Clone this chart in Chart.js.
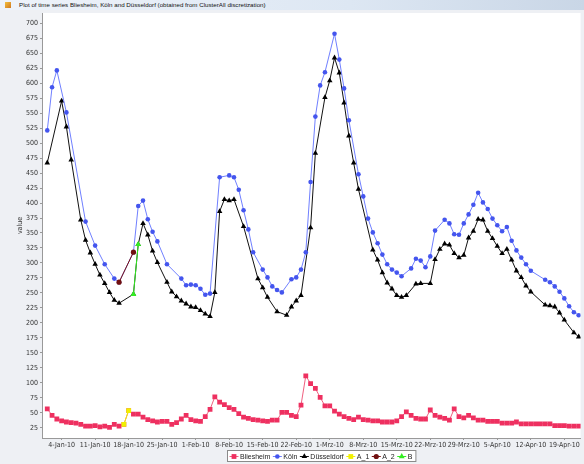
<!DOCTYPE html>
<html>
<head>
<meta charset="utf-8">
<script src="https://cdn.jsdelivr.net/npm/chart.js@4.4.0/dist/chart.umd.min.js"></script>
<style>
  html, body { margin: 0; padding: 0; background: #eef0f4; }
  #wrap { position: relative; width: 584px; height: 464px; overflow: hidden; }
  #titlebar {
    position: absolute; left: 0; top: 0; width: 584px; height: 10px; z-index: 2;
    background: linear-gradient(90deg, #eef3fa, #dde7f3 60%, #c9d6e6);
    font: 6.2px "Liberation Sans", Arial, sans-serif;
    line-height: 10px; color: #111; white-space: nowrap;
  }
  #titlebar .icon {
    display: inline-block; width: 6px; height: 6px; margin: 0 8px 0 5px; vertical-align: -1px;
    background: linear-gradient(135deg, #f2c040, #d07820);
  }
  canvas { position: absolute; left: 0; top: 0; }
</style>
</head>
<body>
<div id="wrap">
  <div id="titlebar"><span class="icon"></span>Plot of time series Bliesheim, Köln and Düsseldorf (obtained from ClusterAll discretization)</div>
  <canvas id="plot" width="584" height="464"></canvas>
</div>
<script>
// day index: 0 = 1-Jan-10
const xTickDays = [3, 10, 17, 24, 31, 38, 45, 52, 59, 66, 73, 80, 87, 94, 101, 108];
const xTickLabels = ["4-Jan-10", "11-Jan-10", "18-Jan-10", "25-Jan-10", "1-Feb-10", "8-Feb-10", "15-Feb-10", "22-Feb-10",
  "1-Mrz-10", "8-Mrz-10", "15-Mrz-10", "22-Mrz-10", "29-Mrz-10", "5-Apr-10", "12-Apr-10", "19-Apr-10"];
const yTicks = [25, 50, 75, 100, 125, 150, 175, 200, 225, 250, 275, 300, 325, 350, 375, 400, 425, 450, 475, 500,
  525, 550, 575, 600, 625, 650, 675, 700];

// one value per day, null = no measurement
const bliesheim = [57, 46, 40, 37, 35, 34, 33, 31, 28, 28, 29, 27, 28, 26, 31, 28, 31, 54, 48, 48,
  43, 39, 37, 35, 36, 36, 31, 34, 40, 46, 39, 37, 36, 44, 56, 77, 68, 64, 59, 56,
  49, 43, 41, 39, 38, 37, 36, 38, 38, 51, 51, 46, 44, 63, 112, 99, 91, 76, 62, 62,
  53, 48, 44, 41, 39, 43, 39, 38, 37, 37, 35, 35, 35, 37, 44, 52, 46, 41, 40, 40,
  55, 46, 43, 41, 38, 57, 44, 42, 46, 42, 38, 38, 36, 36, 36, 33, 33, 33, 35, 32,
  32, 32, 32, 32, 32, 32, 29, 29, 29, 28, 28, 28];
const koeln = [521, 593, 621, null, 551, null, null, null, 369, null, 329, null, 298, null, 274, 268, null, null, 318, 395,
  404, 373, 352, 336, null, 298, null, null, 274, 263, 264, 263, 257, 247, 249, null, 443, null, 446, 443,
  422, 388, 356, 318, null, 289, 276, 261, 255, 251, null, 273, 276, 289, 318, 435, 544, 596, 618, null,
  682, 639, 591, 538, null, 448, 411, 374, 351, 333, 314, 298, 289, 284, 278, null, 291, 307, 304, 293,
  311, 354, null, 372, 366, 348, 347, 366, 381, 397, 417, 401, 390, 374, 363, 353, 360, 337, 321, 309,
  298, 287, null, null, 272, 268, 261, 252, 241, 228, 218, 213];
const duesseldorf = [467, null, null, 570, 527, 472, null, 372, 338, 317, 298, 280, 266, 251, 238, 233, null, null, 248, 331,
  366, 347, 320, 301, null, 268, 252, 244, 237, 232, 227, 226, 221, 215, 211, 251, 386, 406, 404, 406,
  null, 361, null, null, 274, 259, 243, null, 219, null, 213, 227, 237, 246, null, 359, 483, null, 576, 604,
  642, 617, 567, 512, 467, 423, null, null, 322, 305, 284, 267, 257, 246, 243, 246, null, 265, 266, null,
  266, 306, 323, 332, 330, 316, 309, 313, 342, 353, 373, 372, 353, 341, 328, 316, 323, 305, 287, 276,
  262, 252, null, null, 230, 229, 227, 217, 205, null, 184, 177];
// highlighted sub-sequences [day, value]
const a1 = [[16, 31], [17, 54]];
const a2 = [[15, 268], [18, 318]];
const b = [[18, 248], [19, 331]];

const toPoints = arr => arr.map((v, d) => ({ x: d, y: v })).filter(p => p.y !== null);
const pairPoints = arr => arr.map(p => ({ x: p[0], y: p[1] }));

const FONT = '"Liberation Sans Narrow", "DejaVu Sans Condensed", sans-serif';
const LEGEND_FONT = '7px "Liberation Sans", Arial, sans-serif';

const plotBg = {
  id: 'plotBg',
  beforeDraw(chart) {
    const { ctx, chartArea: a } = chart;
    ctx.save();
    ctx.fillStyle = '#ffffff';
    ctx.fillRect(a.left, a.top, a.right - a.left, a.bottom - a.top);
    ctx.restore();
  }
};

// JFreeChart style legend: line + marker + name, in a framed box
const boxLegend = {
  id: 'boxLegend',
  afterDraw(chart) {
    const ctx = chart.ctx;
    const items = chart.data.datasets;
    ctx.save();
    ctx.font = LEGEND_FONT;
    const seg = 9, gap = 1.5, between = 2.5;
    let total = 3;
    items.forEach(ds => { total += seg + gap + ctx.measureText(ds.label).width + between; });
    const left = 227, top = 450, h = 11;
    ctx.fillStyle = '#ffffff';
    ctx.fillRect(left + 0.5, top + 0.5, total, h);
    ctx.strokeStyle = '#8a8a8a';
    ctx.lineWidth = 1;
    ctx.strokeRect(left + 0.5, top + 0.5, total, h);
    let x = left + 2.5;
    const cy = top + 6;
    items.forEach(ds => {
      ctx.strokeStyle = ds.borderColor;
      ctx.beginPath();
      ctx.moveTo(x, cy + 0.5);
      ctx.lineTo(x + seg, cy + 0.5);
      ctx.stroke();
      ctx.fillStyle = ds.pointBackgroundColor;
      ctx.strokeStyle = ds.pointBackgroundColor;
      Chart.helpers.drawPoint(ctx, {
        pointStyle: ds.pointStyle, radius: ds.pointRadius, borderWidth: 0
      }, x + seg / 2, cy + 0.5);
      x += seg + gap;
      ctx.fillStyle = '#222';
      ctx.textBaseline = 'middle';
      ctx.fillText(ds.label, x, cy + 1);
      x += ctx.measureText(ds.label).width + between;
    });
    ctx.restore();
  }
};

function series(label, pts, line, mark, style, radius, order) {
  return {
    label: label, data: pts, borderColor: line, borderWidth: 1,
    pointStyle: style, pointRadius: radius, pointHoverRadius: radius,
    pointBackgroundColor: mark, pointBorderColor: mark, pointBorderWidth: 0,
    tension: 0, fill: false, order: order
  };
}

new Chart(document.getElementById('plot'), {
  type: 'line',
  data: {
    datasets: [
      series('Bliesheim', toPoints(bliesheim), '#f06080', '#ee3060', 'rect', 3.4, 2),
      series('Köln', toPoints(koeln), '#7080ff', '#4455ee', 'circle', 2.3, 2),
      series('Düsseldorf', toPoints(duesseldorf), '#111111', '#000000', 'triangle', 3.2, 2),
      series('A_1', pairPoints(a1), '#f2f200', '#f0f000', 'rect', 3.4, 1),
      series('A_2', pairPoints(a2), '#7a1010', '#701010', 'circle', 2.6, 1),
      series('B', pairPoints(b), '#33ee22', '#33ee22', 'triangle', 3.4, 1)
    ]
  },
  options: {
    responsive: false,
    animation: false,
    events: [],
    layout: { padding: { top: 13, right: 1, bottom: 0, left: 0 } },
    plugins: { legend: { display: false }, tooltip: { enabled: false } },
    scales: {
      x: {
        type: 'linear', min: -1.1, max: 111.4,
        afterBuildTicks: s => { s.ticks = xTickDays.map(v => ({ value: v })); },
        afterFit: s => { s.height = 26; },
        grid: { drawOnChartArea: false, drawTicks: true, tickLength: 2, color: '#999999' },
        border: { display: true, color: '#999999' },
        ticks: {
          autoSkip: false, maxRotation: 0, padding: 1, color: '#333',
          font: { family: FONT, size: 7 },
          callback: v => xTickLabels[xTickDays.indexOf(v)]
        }
      },
      y: {
        type: 'linear', min: 8.3, max: 716.7,
        afterBuildTicks: s => { s.ticks = yTicks.map(v => ({ value: v })); },
        afterFit: s => { s.width = 42; },
        grid: { drawOnChartArea: false, drawTicks: true, tickLength: 2, color: '#999999' },
        border: { display: true, color: '#999999' },
        title: { display: true, text: 'value', color: '#333', font: { family: FONT, size: 7 }, padding: { top: 16, bottom: 0 } },
        ticks: { padding: 2, color: '#333', font: { family: FONT, size: 7 } }
      }
    }
  },
  plugins: [plotBg, boxLegend]
});
</script>
</body>
</html>
